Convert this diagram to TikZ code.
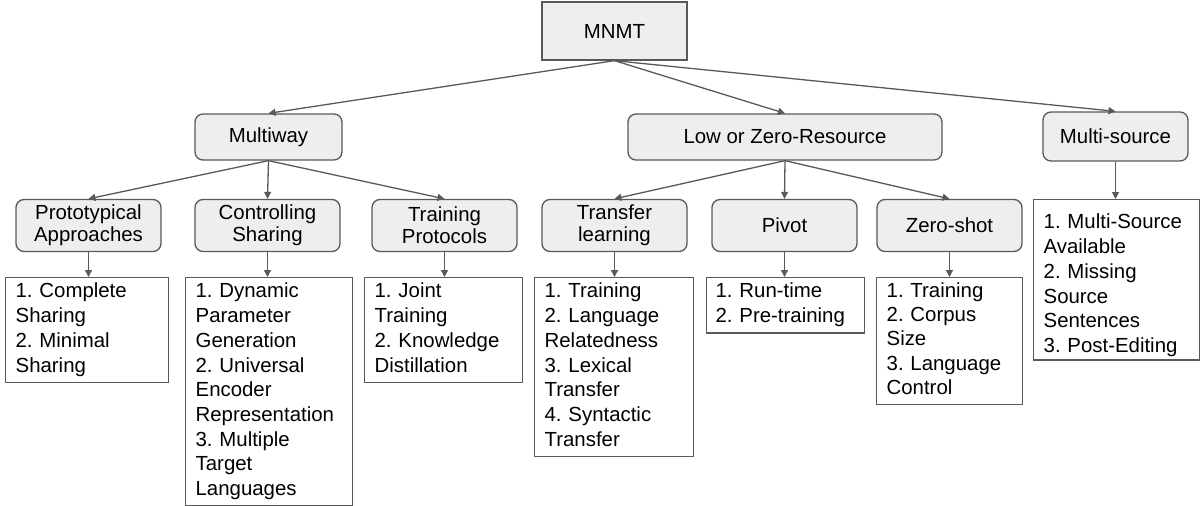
\documentclass[tikz,border=0pt]{standalone}
\usepackage{fontspec}
\setmainfont{Liberation Sans}
\usetikzlibrary{arrows.meta}
\definecolor{edgegray}{HTML}{595959}
\definecolor{boxfill}{HTML}{EEEEEE}
\frenchspacing
\begin{document}
\begin{tikzpicture}[x=1pt,y=-1pt,
  cat/.style={draw=edgegray, line width=1.3pt, fill=boxfill, rounded corners=8pt, align=center, inner sep=0pt, minimum width=145pt, minimum height=52pt, font=\fontsize{20.4}{22.3}\selectfont},
  root/.style={draw=edgegray, line width=1.3pt, fill=boxfill, inner sep=0pt, font=\fontsize{20.4}{24}\selectfont},
  listbox/.style={draw=edgegray, line width=1.3pt, fill=white, anchor=north west, align=left, inner xsep=10pt, inner ysep=3pt, font=\fontsize{20.4}{24.7}\selectfont},
  arr/.style={draw=edgegray, line width=1.3pt, -{Triangle[length=7pt,width=7pt]}}
]
\useasboundingbox (0,0) rectangle (1203,506);

% root
\node[root, minimum width=145pt, minimum height=58pt] (mnmt) at (614.5,31) {MNMT};

% first level
\node[cat, minimum width=147pt, minimum height=46pt] (multiway) at (268.5,137) {Multiway};
\node[cat, minimum width=314pt, minimum height=46pt] (low) at (785,137) {Low or Zero-Resource};
\node[cat, minimum width=145pt, minimum height=49pt] (msrc) at (1115.5,136.5) {Multi-source};

% second level
\node[cat] (proto) at (88.5,225.5) {Prototypical\\Approaches};
\node[cat] (ctrl) at (267.5,225.5) {Controlling\\Sharing};
\node[cat] (train) at (444.5,225.5) {Training\\Protocols};
\node[cat] (transfer) at (614.5,225.5) {Transfer\\learning};
\node[cat] (pivot) at (784.5,225.5) {Pivot};
\node[cat] (zero) at (949.5,225.5) {Zero-shot};

% lists
\node[listbox, text width=143pt] (plist) at (5,277) {\strut 1. Complete\\Sharing\\2. Minimal\\Sharing\strut};
\node[listbox, text width=147pt] (clist) at (185,277) {\strut 1. Dynamic\\Parameter\\Generation\\2. Universal\\Encoder\\Representation\\3. Multiple\\Target\\Languages\strut};
\node[listbox, text width=138pt] (tlist) at (364,277) {\strut 1. Joint\\Training\\2. Knowledge\\Distillation\strut};
\node[listbox, text width=139pt] (trlist) at (534,277) {\strut 1. Training\\2. Language\\Relatedness\\3. Lexical\\Transfer\\4. Syntactic\\Transfer\strut};
\node[listbox, text width=140pt, inner xsep=9pt] (pvlist) at (706,277) {\strut 1. Run-time\\2. Pre-training\strut};
\node[listbox, text width=126pt, font=\fontsize{20.4}{24.2}\selectfont] (zlist) at (876,277) {\strut 1. Training\\2. Corpus\\Size\\3. Language\\Control\strut};
\node[listbox, text width=146pt, font=\fontsize{20.4}{24.8}\selectfont] (mlist) at (1033,199) {\rule{0pt}{26pt}1. Multi-Source\\Available\\2. Missing\\Source\\Sentences\\3. Post-Editing};

% connectors
\draw[arr] (mnmt.south) -- (multiway.north);
\draw[arr] (mnmt.south) -- (low.north);
\draw[arr] (mnmt.south) -- (msrc.north);

\draw[arr] (multiway.south) -- (proto.north);
\draw[arr] (multiway.south) -- (ctrl.north);
\draw[arr] (multiway.south) -- (train.north);

\draw[arr] (low.south) -- (transfer.north);
\draw[arr] (low.south) -- (pivot.north);
\draw[arr] (low.south) -- (zero.north);

\draw[arr] (proto.south) -- (proto.south |- plist.north);
\draw[arr] (ctrl.south) -- (ctrl.south |- clist.north);
\draw[arr] (train.south) -- (train.south |- tlist.north);
\draw[arr] (transfer.south) -- (transfer.south |- trlist.north);
\draw[arr] (pivot.south) -- (pivot.south |- pvlist.north);
\draw[arr] (zero.south) -- (zero.south |- zlist.north);
\draw[arr] (msrc.south) -- (msrc.south |- mlist.north);
\end{tikzpicture}
\end{document}
